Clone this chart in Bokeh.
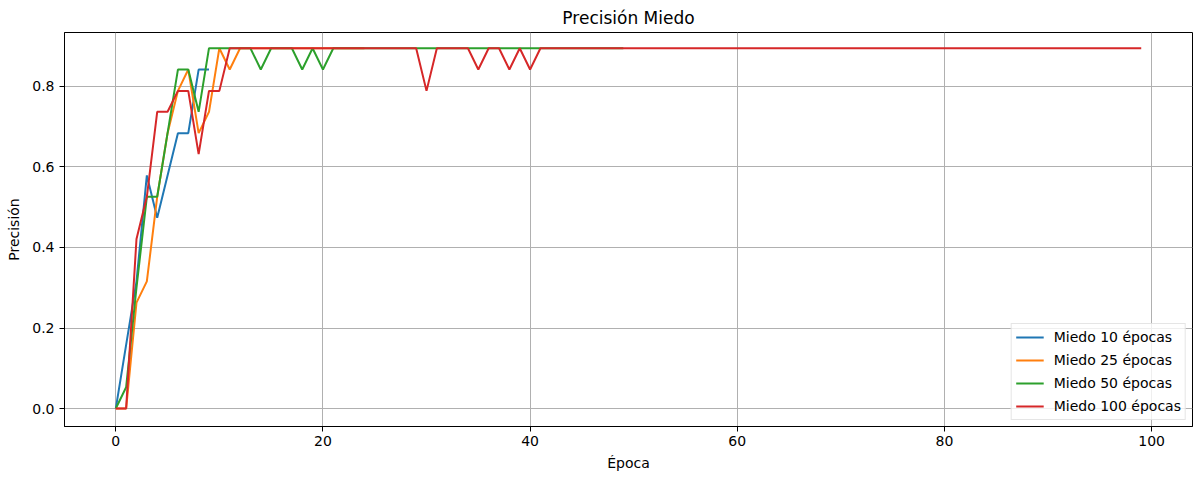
from bokeh.plotting import figure
from bokeh.models import Range1d, FixedTicker, PrintfTickFormatter, Legend, LegendItem
from bokeh.embed import file_html
from bokeh.resources import INLINE

# ---- data ----
labels = ["Miedo 10 épocas", "Miedo 25 épocas", "Miedo 50 épocas", "Miedo 100 épocas"]
colors = ["#1f77b4", "#ff7f0e", "#2ca02c", "#d62728"]

miedo_10 = [0.0, 0.158, 0.316, 0.579, 0.474, 0.579, 0.684, 0.684, 0.842, 0.842]

miedo_25 = [0.0, 0.0, 0.263, 0.316, 0.526, 0.684, 0.789, 0.842, 0.684, 0.737,
            0.895, 0.842, 0.895, 0.895, 0.895, 0.895, 0.895, 0.895, 0.895, 0.895,
            0.895, 0.895, 0.895, 0.895, 0.895]

miedo_50 = [0.0, 0.053, 0.30, 0.526, 0.526, 0.684, 0.842, 0.842, 0.737, 0.895,
            0.895, 0.895, 0.895, 0.895, 0.842, 0.895, 0.895, 0.895, 0.842, 0.895,
            0.842, 0.895, 0.895, 0.895, 0.895, 0.895, 0.895, 0.895, 0.895, 0.895,
            0.895, 0.895, 0.895, 0.895, 0.895, 0.895, 0.895, 0.895, 0.895, 0.895,
            0.895, 0.895, 0.895, 0.895, 0.895, 0.895, 0.895, 0.895, 0.895, 0.895]

miedo_100 = [0.0, 0.0, 0.421, 0.526, 0.737, 0.737, 0.789, 0.789, 0.632, 0.789,
             0.789, 0.895, 0.895, 0.895, 0.895, 0.895, 0.895, 0.895, 0.895, 0.895,
             0.895, 0.895, 0.895, 0.895, 0.895, 0.895, 0.895, 0.895, 0.895, 0.895,
             0.789, 0.895, 0.895, 0.895, 0.895, 0.842, 0.895, 0.895, 0.842, 0.895,
             0.842, 0.895, 0.895, 0.895, 0.895, 0.895, 0.895, 0.895, 0.895, 0.895,
             0.895, 0.895, 0.895, 0.895, 0.895, 0.895, 0.895, 0.895, 0.895, 0.895,
             0.895, 0.895, 0.895, 0.895, 0.895, 0.895, 0.895, 0.895, 0.895, 0.895,
             0.895, 0.895, 0.895, 0.895, 0.895, 0.895, 0.895, 0.895, 0.895, 0.895,
             0.895, 0.895, 0.895, 0.895, 0.895, 0.895, 0.895, 0.895, 0.895, 0.895,
             0.895, 0.895, 0.895, 0.895, 0.895, 0.895, 0.895, 0.895, 0.895, 0.895]

series = [miedo_10, miedo_25, miedo_50, miedo_100]

x_ticks = [0, 20, 40, 60, 80, 100]
y_ticks = [0.0, 0.2, 0.4, 0.6, 0.8]

FONT = "DejaVu Sans"

p = figure(width=1193, height=477, output_backend="svg", toolbar_location=None,
           x_range=Range1d(-4.95, 103.95), y_range=Range1d(-0.0446, 0.934),
           min_border_left=64, min_border_right=1, min_border_top=31, min_border_bottom=51,
           title="Precisión Miedo")

p.title.align = "center"
p.title.text_font = FONT
p.title.text_font_size = "17px"
p.title.text_font_style = "normal"
p.title.text_color = "#000000"

p.outline_line_color = "#000000"
p.outline_line_width = 1
p.outline_line_alpha = 1
p.background_fill_color = "white"
p.border_fill_color = "white"

# grid
p.xgrid.ticker = FixedTicker(ticks=x_ticks)
p.ygrid.ticker = FixedTicker(ticks=y_ticks)
for g in (p.xgrid, p.ygrid):
    g.grid_line_color = "#b0b0b0"
    g.grid_line_width = 1
    g.grid_line_alpha = 1

# axes
p.xaxis.ticker = FixedTicker(ticks=x_ticks)
p.yaxis.ticker = FixedTicker(ticks=y_ticks)
p.yaxis.formatter = PrintfTickFormatter(format="%.1f")
p.xaxis.axis_label = "Época"
p.yaxis.axis_label = "Precisión"
for ax in (p.xaxis, p.yaxis):
    ax.axis_label_text_font = FONT
    ax.axis_label_text_font_size = "14px"
    ax.axis_label_text_font_style = "normal"
    ax.axis_label_text_color = "#000000"
    ax.major_label_text_font = FONT
    ax.major_label_text_font_size = "14px"
    ax.major_label_text_color = "#000000"
    ax.minor_tick_line_color = None
    ax.major_tick_in = 0
    ax.major_tick_out = 5
    ax.major_tick_line_color = "#000000"
    ax.axis_line_color = "#000000"
    ax.major_label_standoff = 4
p.xaxis.axis_label_standoff = 6
p.yaxis.axis_label_standoff = 7
p.yaxis.major_label_standoff = 5

items = []
for ys, lab, col in zip(series, labels, colors):
    xs = list(range(len(ys)))
    r = p.line(xs, ys, line_color=col, line_width=2)
    items.append(LegendItem(label=lab, renderers=[r]))

legend = Legend(items=items, location="bottom_right")
legend.label_text_font = FONT
legend.label_text_font_size = "14px"
legend.label_text_color = "#000000"
legend.glyph_width = 28
legend.glyph_height = 18
legend.label_height = 18
legend.label_standoff = 10
legend.spacing = 5
legend.padding = 4
legend.margin = 6
legend.border_line_color = "#cccccc"
legend.border_line_width = 1
legend.background_fill_color = "white"
legend.background_fill_alpha = 0.8
p.add_layout(legend, "center")

open("out.html", "w").write(file_html(p, INLINE))
